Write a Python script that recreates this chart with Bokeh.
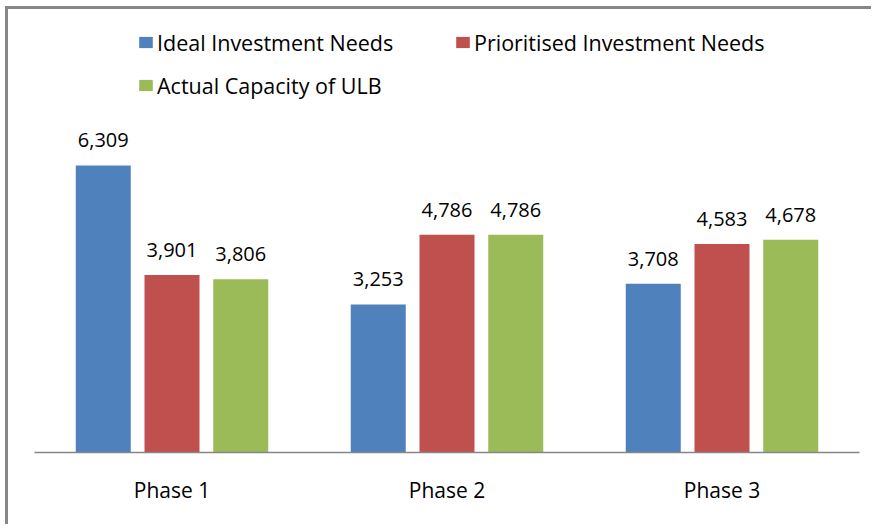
from bokeh.plotting import figure
from bokeh.models import ColumnDataSource, FactorRange, Range1d, Legend, LegendItem
from bokeh.transform import dodge
from bokeh.core.properties import value
from bokeh.embed import file_html
from bokeh.resources import INLINE

# ---- data ----
phases = ["Phase 1", "Phase 2", "Phase 3"]
series_names = ["Ideal Investment Needs", "Prioritised Investment Needs", "Actual Capacity of ULB"]
ideal = [6309, 3253, 3708]
prioritised = [3901, 4786, 4583]
actual = [3806, 4786, 4678]

colors = ["#4F81BD", "#C0504D", "#9BBB59"]
FONT = "Open Sans"

src = ColumnDataSource(dict(
    phase=phases,
    ideal=ideal,
    prioritised=prioritised,
    actual=actual,
    ideal_lbl=[f"{v:,}" for v in ideal],
    prioritised_lbl=[f"{v:,}" for v in prioritised],
    actual_lbl=[f"{v:,}" for v in actual],
))

W, H = 866, 518
p = figure(width=W, height=H,
           x_range=FactorRange(factors=phases, range_padding=0),
           y_range=Range1d(0, 9736),
           output_backend="svg", toolbar_location=None,
           y_axis_location=None,
           min_border_left=26, min_border_right=15,
           min_border_top=0, min_border_bottom=75)
p.styles = {"border-top": "3px solid #878787", "border-left": "3px solid #878787",
            "margin-left": "5px", "margin-top": "6px"}

p.background_fill_color = "white"
p.border_fill_color = "white"
p.outline_line_color = None
p.xgrid.visible = False
p.ygrid.visible = False

keys = ["ideal", "prioritised", "actual"]
offsets = [-0.25, 0.0, 0.25]
items = []
for key, off, col, name in zip(keys, offsets, colors, series_names):
    r = p.vbar(x=dodge("phase", off, range=p.x_range), top=key, width=0.2,
               source=src, fill_color=col, line_color=None)
    p.text(x=dodge("phase", off, range=p.x_range), y=key, text=key + "_lbl",
           source=src, text_align="center", text_baseline="middle", y_offset=-25,
           text_font=value(FONT), text_font_size="20px", text_color="#000000")
    items.append(LegendItem(label=name, renderers=[r]))

legend = Legend(items=items, location=(103, 352), orientation="horizontal", ncols=2,
                glyph_width=17, glyph_height=14, label_standoff=3,
                label_width=284, label_height=30, spacing=13,
                padding=0, margin=0, border_line_color=None,
                background_fill_alpha=0,
                label_text_font=FONT, label_text_font_size="21.5px",
                label_text_color="#000000")
p.add_layout(legend)

ax = p.xaxis[0]
ax.axis_line_color = "#868686"
ax.axis_line_width = 1.5
ax.major_tick_line_color = None
ax.minor_tick_line_color = None
ax.major_label_text_font = FONT
ax.major_label_text_font_size = "21px"
ax.major_label_text_color = "#000000"
ax.major_label_standoff = 17

open("out.html", "w").write(file_html(p, INLINE))
